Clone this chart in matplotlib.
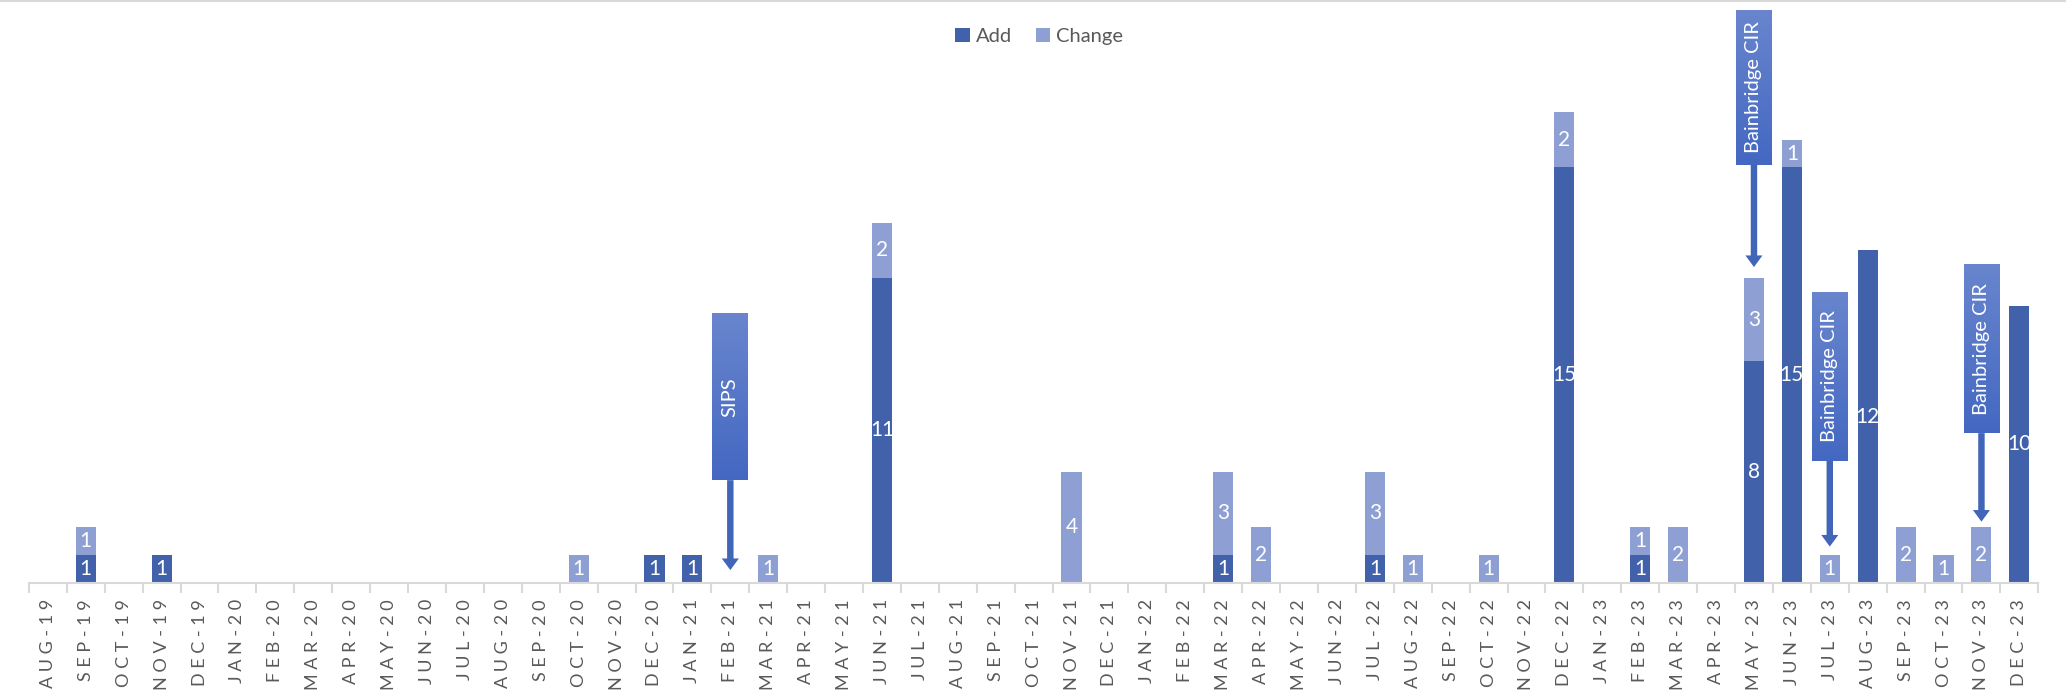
import numpy as np
import matplotlib.pyplot as plt
from matplotlib.patches import Rectangle, FancyArrow
from matplotlib.colors import LinearSegmentedColormap

plt.rcParams["font.family"] = ["Lato", "DejaVu Sans"]

# ---- data ----
months = ["AUG-19", "SEP-19", "OCT-19", "NOV-19", "DEC-19",
          "JAN-20", "FEB-20", "MAR-20", "APR-20", "MAY-20", "JUN-20", "JUL-20",
          "AUG-20", "SEP-20", "OCT-20", "NOV-20", "DEC-20",
          "JAN-21", "FEB-21", "MAR-21", "APR-21", "MAY-21", "JUN-21", "JUL-21",
          "AUG-21", "SEP-21", "OCT-21", "NOV-21", "DEC-21",
          "JAN-22", "FEB-22", "MAR-22", "APR-22", "MAY-22", "JUN-22", "JUL-22",
          "AUG-22", "SEP-22", "OCT-22", "NOV-22", "DEC-22",
          "JAN-23", "FEB-23", "MAR-23", "APR-23", "MAY-23", "JUN-23", "JUL-23",
          "AUG-23", "SEP-23", "OCT-23", "NOV-23", "DEC-23"]

add = [0, 1, 0, 1, 0,
       0, 0, 0, 0, 0, 0, 0,
       0, 0, 0, 0, 1,
       1, 0, 0, 0, 0, 11, 0,
       0, 0, 0, 0, 0,
       0, 0, 1, 0, 0, 0, 1,
       0, 0, 0, 0, 15,
       0, 1, 0, 0, 8, 15, 0,
       12, 0, 0, 0, 10]

change = [0, 1, 0, 0, 0,
          0, 0, 0, 0, 0, 0, 0,
          0, 0, 1, 0, 0,
          0, 0, 1, 0, 0, 2, 0,
          0, 0, 0, 4, 0,
          0, 0, 3, 2, 0, 0, 3,
          1, 0, 1, 0, 2,
          0, 1, 2, 0, 3, 1, 1,
          0, 2, 1, 2, 0]

# callouts: label, month, box top, box bottom, arrow tip
callout_labels = ["SIPS", "Bainbridge CIR", "Bainbridge CIR", "Bainbridge CIR"]
callout_months = ["FEB-21", "MAY-23", "JUL-23", "NOV-23"]
callout_top = [9.7, 20.7, 10.5, 11.5]
callout_bottom = [3.7, 15.1, 4.4, 5.4]
callout_tip = [0.45, 11.4, 1.3, 2.2]

C_ADD = "#4162AA"
C_CHANGE = "#8E9FD3"
C_TEXT = "#595959"

fig = plt.figure(figsize=(20.66, 6.96), dpi=100)
ax = fig.add_axes([0.014, 0.163, 0.9726, 0.835])

x = np.arange(len(months))
w = 0.53
ax.bar(x, add, width=w, color=C_ADD, label="Add", zorder=2)
ax.bar(x, change, width=w, bottom=add, color=C_CHANGE, label="Change", zorder=2)

# data labels
for i in range(len(months)):
    if add[i] > 0:
        ax.text(x[i], add[i] / 2, str(add[i]), ha="center", va="center",
                color="white", fontsize=15, zorder=3)
    if change[i] > 0:
        ax.text(x[i], add[i] + change[i] / 2, str(change[i]), ha="center", va="center",
                color="white", fontsize=15, zorder=3)

# callouts with gradient boxes and arrows
grad = LinearSegmentedColormap.from_list("g", ["#4468C2", "#6885CD"])
for lab, m, top, bot, tip in zip(callout_labels, callout_months, callout_top, callout_bottom, callout_tip):
    xc = months.index(m)
    bw = 0.94
    arr = FancyArrow(xc, bot, 0, tip - bot, width=0.17, head_width=0.45, head_length=0.42,
                     length_includes_head=True, color="#4166B9", lw=0, zorder=4, clip_on=False)
    ax.add_patch(arr)
    rect = Rectangle((xc - bw / 2, bot), bw, top - bot, facecolor="none", edgecolor="none",
                     zorder=5, clip_on=False)
    ax.add_patch(rect)
    im = ax.imshow(np.linspace(0, 1, 100).reshape(-1, 1), cmap=grad, aspect="auto",
                   extent=[xc - bw / 2, xc + bw / 2, bot, top], origin="lower", zorder=5)
    im.set_clip_path(rect)
    im.set_clip_on(False)
    ax.text(xc, (top + bot) / 2, lab, rotation=90, ha="center", va="center",
            color="white", fontsize=14.5, zorder=6, clip_on=False)

ax.set_xlim(-0.5, len(months) - 0.5)
ax.set_ylim(0, 21)

for s in ["top", "right", "left"]:
    ax.spines[s].set_visible(False)
ax.spines["bottom"].set_color("#D9D9D9")
ax.spines["bottom"].set_linewidth(1.5)
ax.set_yticks([])

ax.set_xticks(x)
ax.set_xticklabels([" ".join(list(m)) for m in months], rotation=90, fontsize=13, color=C_TEXT)
ax.tick_params(axis="x", which="major", length=0, pad=12)
ax.set_xticks(np.arange(-0.5, len(months), 1), minor=True)
ax.tick_params(axis="x", which="minor", length=7, color="#D9D9D9", width=1.5)

fig.legend(loc="upper center", bbox_to_anchor=(0.503, 0.986), ncol=2, frameon=False,
           fontsize=14.5, labelcolor=C_TEXT, handlelength=0.7, handleheight=0.7,
           handletextpad=0.3, columnspacing=1.2)

# chart border line at top
fig.add_artist(plt.Line2D([0, 1], [0.999, 0.999], color="#D9D9D9", lw=1.5, transform=fig.transFigure))

fig.savefig("out.png", dpi=100)
